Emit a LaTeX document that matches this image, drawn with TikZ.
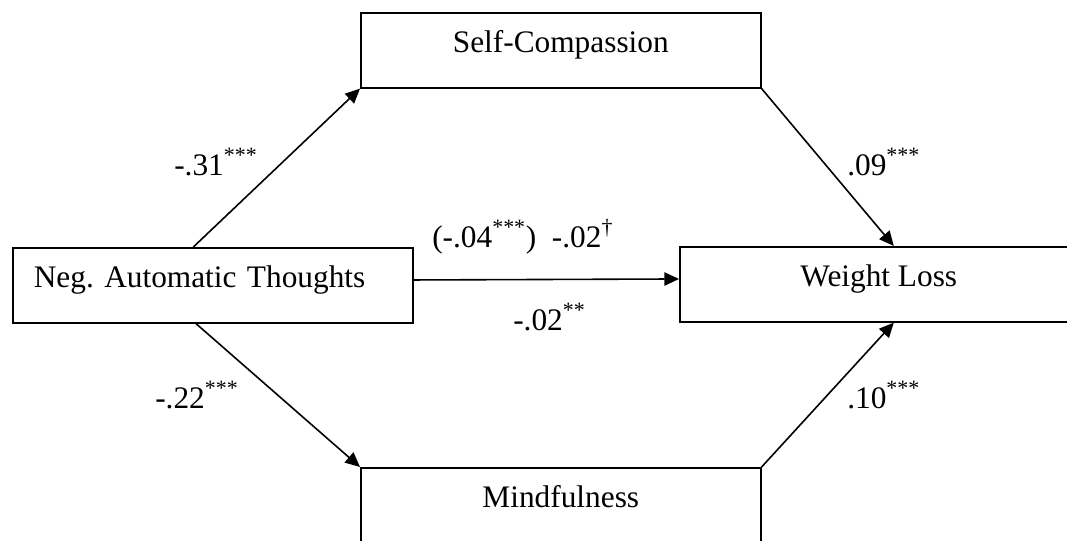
\documentclass[tikz,border=0pt]{standalone}
\usepackage{fontspec}
\setmainfont{Liberation Serif}
\usetikzlibrary{arrows.meta}

\begin{document}
\begin{tikzpicture}[
    x=0.75pt, y=-0.75pt,
    % Stili comuni per riquadri, frecce e coefficienti del modello.
    every node/.style={font=\fontsize{23.5}{28}\selectfont, inner sep=0pt},
    box/.style={rectangle, draw, line width=1.2pt, anchor=north west,
        minimum width=300pt, text height=30pt, text depth=26.25pt},
    link/.style={draw, line width=1.2pt, -{Triangle[length=11pt, width=10pt]}},
    coef/.style={anchor=base west}
]
% Area visibile della figura.
\useasboundingbox (0,0) rectangle (1067,540);

% Variabili: predittore, mediatori ed esito.
\node[box, text width=268.5pt, inner xsep=15pt, align=left] (nat) at (12,247) {Neg.\ Automatic Thoughts};
\node[box] (sc) at (360,12)  {Self-Compassion};
\node[box] (mf) at (360,467) {Mindfulness};
\node[box, minimum width=298.5pt] (wl) at (679,246) {Weight Loss};

% Percorsi diretti e indiretti.
\draw[link] ([xshift=136pt]nat.north west) -- (sc.south west);
\draw[link] ([xshift=138pt]nat.south west) -- (mf.north west);
\draw[link] ([yshift=4pt]nat.east) -- ([yshift=4pt]wl.west);
\draw[link] (sc.south east) -- ([xshift=11.25pt]wl.north);
\draw[link] (mf.north east) -- ([xshift=11.25pt]wl.south);

% Coefficienti standardizzati con livelli di significativita'.
\node[coef] (a1) at (174,175) {-.31\textsuperscript{***}};
\node[coef] (a2) at (155,408) {-.22\textsuperscript{***}};
\node[coef] (c)  at (432,247) {(-.04\textsuperscript{***})\ \ -.02\textsuperscript{\textdagger}};
\node[coef] (ci) at (513,330) {-.02\textsuperscript{**}};
\node[coef] (b1) at (847,175) {.09\textsuperscript{***}};
\node[coef] (b2) at (847,408) {.10\textsuperscript{***}};
\end{tikzpicture}
\end{document}
